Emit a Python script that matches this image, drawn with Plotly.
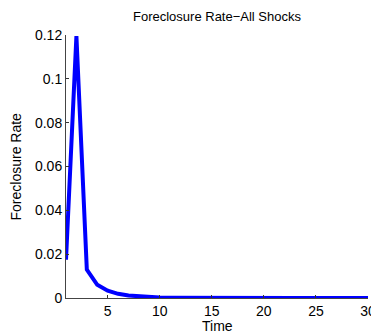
import plotly.graph_objects as go

time = list(range(1, 31))
rate = [0.0175, 0.1195, 0.0130, 0.0060, 0.0033, 0.0019, 0.0011, 0.0007, 0.0004, 0.00025,
        0.00015, 0.0001, 0.00006, 0.00004, 0.00003, 0.00002, 0.00001, 0.00001, 0.0, 0.0,
        0.0, 0.0, 0.0, 0.0, 0.0, 0.0, 0.0, 0.0, 0.0, 0.0]
x_ticks = [5, 10, 15, 20, 25, 30]
y_ticks = [0, 0.02, 0.04, 0.06, 0.08, 0.1, 0.12]
y_ticktext = ["0", "0.02", "0.04", "0.06", "0.08", "0.1", "0.12"]

# page body has an 8px margin; figure is sized/positioned to compensate
W, H = 371, 327
L, R, T, B = 58, 11, 27, 37
PW, PH = W - L - R, H - T - B

fig = go.Figure(go.Scatter(x=time, y=rate, mode="lines",
                           line=dict(color="#0000ff", width=4), cliponaxis=False))
font = dict(family="Liberation Sans, Arial, sans-serif", size=14, color="black")
fig.update_layout(
    width=W, height=H,
    margin=dict(l=L, r=R, t=T, b=B, autoexpand=False),
    paper_bgcolor="white", plot_bgcolor="white",
    showlegend=False,
    font=font,
    title=dict(text="Foreclosure Rate\u2212All Shocks", x=209 / W, xanchor="center",
               y=1 - 8 / H, yanchor="middle", font=dict(size=13, color="black")),
)
fig.update_xaxes(range=[1, 30], tickvals=x_ticks, ticks="inside", ticklen=3,
                 tickcolor="#333", showline=True, linecolor="#444", linewidth=1,
                 showgrid=False, zeroline=False, tickfont=dict(size=14),
                 automargin=False, title=None)
fig.update_yaxes(range=[0, 0.12], tickvals=y_ticks, ticktext=y_ticktext,
                 ticks="inside", ticklen=3, tickcolor="#333", showline=True,
                 linecolor="#444", linewidth=1, showgrid=False, zeroline=False,
                 tickfont=dict(size=14), automargin=False, title=None)
fig.add_annotation(text="Time", xref="paper", yref="paper", x=0.5, y=-28 / PH,
                   xanchor="center", yanchor="middle", showarrow=False,
                   font=dict(size=14))
fig.add_annotation(text="Foreclosure Rate", xref="paper", yref="paper",
                   x=-51 / PW, y=0.5, textangle=-90, xanchor="center",
                   yanchor="middle", showarrow=False, font=dict(size=14))
fig.write_html("out.html")
